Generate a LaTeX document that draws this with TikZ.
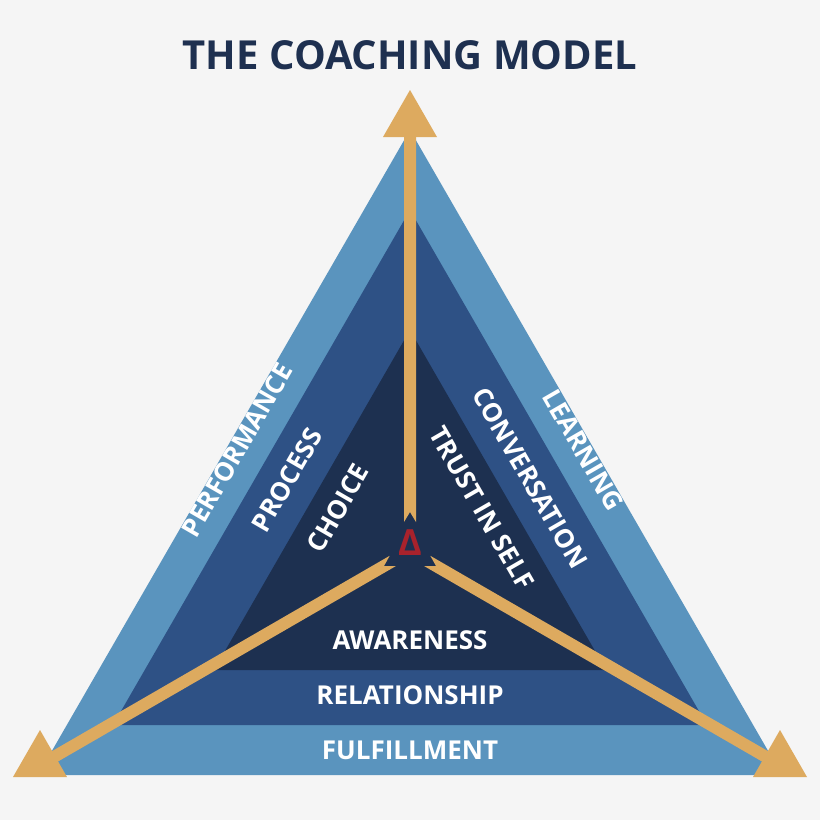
\documentclass[tikz,border=0pt]{standalone}
\usepackage{fontspec}
\setmainfont{Open Sans}
\usetikzlibrary{calc}
\definecolor{bg}{HTML}{F5F5F5}
\definecolor{lb}{HTML}{5A94BE}
\definecolor{mb}{HTML}{2E5185}
\definecolor{db}{HTML}{1D3050}
\definecolor{gold}{HTML}{DDAA5F}
\definecolor{navy}{HTML}{1E3050}
\definecolor{red}{HTML}{A8222C}
\tikzset{lab/.style={text=white,font=\bfseries\fontsize{26}{26}\selectfont,inner sep=0}}
\newcommand{\myshaft}[3]{%
 \coordinate (a) at #1; \coordinate (b) at #2;
 \fill[gold] (a) -- ($(a)!-#3!(b)!6pt!90:(b)$) -- ($(b)!6pt!-90:(a)$) -- ($(b)!6pt!90:(a)$) -- ($(a)!-#3!(b)!6pt!-90:(b)$) -- cycle;}
\begin{document}
\begin{tikzpicture}[x=1pt,y=-1pt]
\fill[bg] (0,0) rectangle (820,820);
\node[text=navy,font=\bfseries\fontsize{40}{40}\selectfont] (t) at (410,55) {THE COACHING MODEL};
\fill[lb] (410,130) -- (38,775) -- (782,775) -- cycle;
\fill[mb] (410,210) -- (113,725) -- (707,725) -- cycle;
\fill[db] (410,330) -- (214,670) -- (606,670) -- cycle;
\myshaft{(410,512)}{(410,137)}{10pt}
\myshaft{(384,566)}{(40,765)}{10pt}
\myshaft{(436,566)}{(780,765)}{10pt}
\fill[gold] (383,137) -- (437,137) -- (410,90) -- cycle;
\fill[gold] (13,777) -- (67,777) -- (40,730) -- cycle;
\fill[gold] (753,777) -- (807,777) -- (780,730) -- cycle;
\node[text=red,font=\bfseries\fontsize{36}{36}\selectfont] (d) at (410,543) {Δ};
\node[lab,rotate=60] (p1) at (237,450) {PERFORMANCE};
\node[lab,rotate=60] (p2) at (287,480) {PROCESS};
\node[lab,rotate=60] (p3) at (338,508) {CHOICE};
\node[lab,rotate=-60] (l1) at (583,450) {LEARNING};
\node[lab,rotate=-60] (l2) at (530,478) {CONVERSATION};
\node[lab,rotate=-60] (l3) at (482,508) {TRUST IN SELF};
\node[lab] (b1) at (410,640) {AWARENESS};
\node[lab] (b2) at (410,695) {RELATIONSHIP};
\node[lab] (b3) at (410,750) {FULFILLMENT};
\end{tikzpicture}
\end{document}
